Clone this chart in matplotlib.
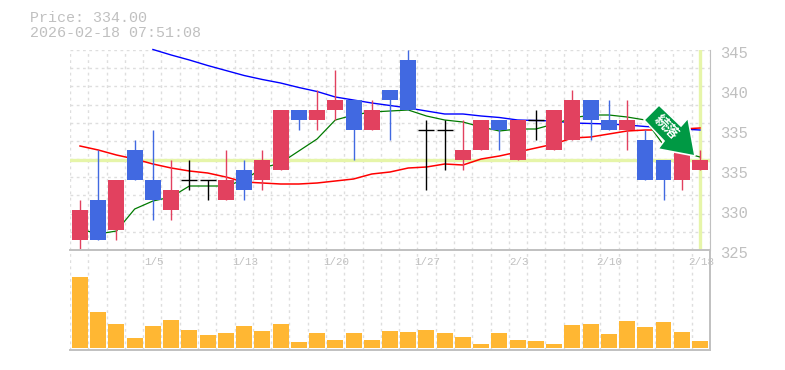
import numpy as np
import matplotlib
matplotlib.use('Agg')
import matplotlib.pyplot as plt
from matplotlib.patches import Polygon
from matplotlib.transforms import Affine2D, blended_transform_factory

price_text = "Price: 334.00"
time_text = "2026-02-18 07:51:08"

opens = [326, 330, 327, 335, 332, 329, 332, 332, 330, 333, 332, 333, 339, 338, 339, 340, 337, 341, 344,
         337, 337, 334, 335, 338, 334, 338, 335, 336, 340, 338, 337, 336, 334, 332, 333]
closes = [329, 326, 332, 332, 330, 331, 332, 332, 332, 331, 334, 339, 338, 339, 340, 337, 339, 340, 339,
          337, 337, 335, 338, 337, 338, 338, 339, 340, 338, 337, 338, 332, 332, 335, 334]
highs = [330, 335, 332, 336, 337, 334, 334, 332, 335, 334, 335, 339, 339, 341, 343, 340, 340, 341, 345,
         338, 338, 338, 338, 338, 338, 339, 339, 341, 340, 340, 340, 337, 334, 335, 335]
lows = [325, 326, 326, 332, 328, 328, 331, 330, 330, 330, 331, 333, 337, 337, 338, 334, 337, 336, 339,
        331, 333, 333, 335, 335, 334, 336, 335, 336, 336, 337, 335, 332, 330, 331, 333]

ma_short = [327.1, 326.6, 326.9, 329.1, 329.9, 330.3, 331.4, 331.4, 331.4, 332.0, 333.2, 333.7, 334.9, 336.1,
            338.0, 338.5, 338.8, 338.9, 339.0, 338.4, 338.0, 337.8, 337.3, 336.9, 337.1, 337.1, 337.6, 338.2,
            338.5, 338.5, 338.3, 338.0, 335.5, 334.8, 334.3]
ma_mid = [335.4, 335.0, 334.5, 334.1, 333.6, 333.2, 332.9, 332.7, 332.3, 331.8, 331.7, 331.6, 331.6, 331.7,
          331.9, 332.1, 332.6, 332.8, 333.2, 333.3, 333.6, 333.5, 334.1, 334.4, 334.8, 335.2, 335.6, 336.2,
          336.3, 336.6, 336.9, 337.0, 337.0, 337.1, 337.2]
ma_long = [None, None, None, None, 345.05, 344.5, 344.0, 343.45, 342.95, 342.45, 342.05, 341.7, 341.25, 340.85,
           340.3, 340.0, 339.7, 339.45, 339.2, 338.9, 338.6, 338.6, 338.4, 338.25, 338.0, 337.95, 337.9, 337.7,
           337.65, 337.6, 337.5, 337.35, 337.25, 337.1, 337.0]
volumes = [71, 36, 24, 10, 22, 28, 18, 13, 15, 22, 17, 24, 6, 15, 8, 15, 8, 17, 16, 18, 15, 11, 4, 15, 8, 7, 4,
           23, 24, 14, 27, 21, 26, 16, 7]

date_pos = [4, 9, 14, 19, 24, 29, 34]
date_labels = ["1/5", "1/13", "1/20", "1/27", "2/3", "2/10", "2/18"]
price_ticks = [345, 341, 337, 333, 329, 325]
price_labels = ["345", "340", "335", "335", "330", "325"]
last_price = 334

W, H = 785, 370
RED = '#e2415f'
BLUE = '#4169e1'
GRAY = '#c0c0c0'
GRID = '#dedede'
BAND = '#e6f5a9'
FONT = ['Liberation Mono', 'DejaVu Sans Mono']
DASH = (0, (2, 2.5))

fig = plt.figure(figsize=(W / 100, H / 100), dpi=100)


def panel(left, top, right, bottom):
    return fig.add_axes([left / W, 1 - bottom / H, (right - left) / W, (bottom - top) / H])


ax = panel(70, 50, 710, 250)
vol = panel(70, 250, 710, 350)

# bar centre 0 sits at 80 px, one bar every 18.235 px
xmin, xmax = (70 - 80) / 18.235, (710 - 80) / 18.235
x = np.arange(len(opens))
grid_x = np.linspace(xmin, xmax, 36)

for a in (ax, vol):
    a.set_xlim(xmin, xmax)
    a.set_xticks(grid_x)
    a.set_xticklabels([])
    a.tick_params(length=0)
    a.grid(axis='x', color=GRID, lw=1, ls=DASH)
    a.set_axisbelow(True)

ax.set_ylim(325, 345)
ax.set_yticks(np.linspace(325, 345, 12))
ax.set_yticklabels([])
ax.grid(axis='y', color=GRID, lw=1, ls=DASH)
for side in ('top', 'left', 'bottom'):
    ax.spines[side].set_visible(False)
ax.spines['right'].set_color(GRAY)

ax.axhline(last_price, color=BAND, lw=2.4, zorder=1)
ax.axvline(x[-1], color=BAND, lw=2.4, zorder=1)

ax.plot(x, ma_long, color='#0000ff', lw=1.0, zorder=2, clip_on=False)
ax.plot(x, ma_mid, color='#ff0000', lw=1.1, zorder=2)
ax.plot(x, ma_short, color='#007a00', lw=0.9, zorder=2)

for i in x:
    o, c = opens[i], closes[i]
    if o == c:
        ax.vlines(i, lows[i], highs[i], color='black', lw=1, zorder=4)
        ax.hlines(o, i - 0.44, i + 0.44, color='black', lw=1, zorder=4)
        continue
    col = RED if c > o else BLUE
    ax.vlines(i, lows[i], highs[i], color=col, lw=1, zorder=3, clip_on=False)
    ax.bar(i, abs(c - o), bottom=min(o, c), width=0.875, color=col, zorder=3)

label_tr = blended_transform_factory(fig.transFigure, ax.transData)
for p, lab in zip(price_ticks, price_labels):
    ax.text(720 / W, p - 0.3, lab, transform=label_tr, family=FONT, fontsize=11.2, color=GRAY,
            va='center', ha='left', clip_on=False)

vol.bar(x, volumes, width=0.875, color='#ffb733', zorder=2)
vol.set_ylim(-2, 98)
vol.set_yticks([])
for side in ('top', 'bottom', 'right'):
    vol.spines[side].set_color(GRAY)
    vol.spines[side].set_linewidth(1.4)
vol.spines['left'].set_visible(False)

for p, lab in zip(date_pos, date_labels):
    vol.text(p + 0.05, 86, lab, family=FONT, fontsize=7.8, color=GRAY, ha='center', va='center', zorder=5)

fig.text(30 / W, 1 - 18 / H, price_text, family=FONT, fontsize=10.8, color=GRAY, va='center')
fig.text(30 / W, 1 - 33 / H, time_text, family=FONT, fontsize=10.8, color=GRAY, va='center')

# green signal arrow, pixel outline measured from the top left corner
arrow_px = [(659, 105), (644, 120), (664, 141), (658, 149), (695, 156), (688, 118), (681, 126)]
px = Affine2D().scale(1, -1).translate(0, H)
fig.add_artist(Polygon(arrow_px, closed=True, facecolor='#009944', edgecolor='white', lw=1.2,
                       transform=px, zorder=10))
fig.text(666 / W, 1 - 127 / H, "続落", family=['Noto Sans CJK JP', 'DejaVu Sans'], fontsize=10, fontweight='bold',
         color='white', rotation=-45, ha='center', va='center', zorder=11)

fig.savefig('out.png', dpi=100)
